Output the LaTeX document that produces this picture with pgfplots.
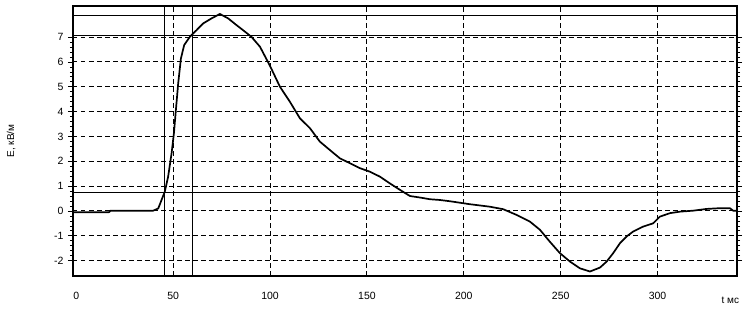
\documentclass[border=0pt]{standalone}
\usepackage{fontspec}
\setmainfont{Liberation Sans}
\usepackage{pgfplots}
\pgfplotsset{compat=1.18}
\begin{document}
\begin{tikzpicture}
\begin{axis}[
  scale only axis,
  width=664pt, height=270pt,
  xmin=-1.7, xmax=341,
  ymin=-2.62, ymax=8.25,
  xtick={50,100,...,300},
  extra x ticks={0},
  extra tick style={grid=none},
  ytick={-2,-1,...,7},
  minor y tick num=4,
  grid=major,
  major grid style={black, line width=0.9pt, dash pattern=on 4.5pt off 3.5pt},
  axis line style={black, line width=1.3pt},
  x tick style={draw=none},
  y tick style={black, line width=0.6pt},
  tick align=outside,
  major tick length=5pt,
  minor tick length=3pt,
  /pgf/number format/assume math mode=true,
  tick label style={font=\fontsize{10.5}{12}\selectfont},
  xticklabel style={yshift=-8pt},
  yticklabel style={xshift=-1pt},
  clip=false,
]
\addplot[black, line width=0.7pt] coordinates {(45.7,-2.62) (45.7,8.25)};
\addplot[black, line width=0.7pt] coordinates {(59.7,-2.62) (59.7,8.25)};
\addplot[black, line width=0.7pt] coordinates {(-1.7,7.88) (341,7.88)};
\addplot[black, line width=0.7pt] coordinates {(-1.7,7.08) (341,7.08)};
\addplot[black, line width=0.7pt] coordinates {(-1.7,0.75) (341,0.75)};
\addplot[black, line width=1.7pt, line join=round] coordinates {
(-1.7,-0.05) (17,-0.05) (17.5,0.01) (39.7,0.01) (42.3,0.1) (44,0.44) (45.7,0.78)
(47.4,1.38) (49.2,2.33) (50.4,3.14) (51.4,4.06) (52.6,5.14) (54,6.14) (55.7,6.68)
(58.6,7.01) (62.1,7.28) (65.5,7.55) (69.8,7.75) (74.1,7.93) (78.4,7.75) (82.7,7.48)
(87,7.22) (90.5,7.0) (94.8,6.61) (99.9,5.85) (105.1,5.0) (110.2,4.40) (115.4,3.73)
(120.6,3.33) (125.7,2.79) (130.9,2.45) (136,2.12) (141.2,1.92) (146.4,1.72)
(151.5,1.58) (156.7,1.38) (161.8,1.11) (167,0.85) (172.2,0.60) (177.3,0.54)
(182.5,0.47) (187.7,0.44) (192.8,0.39) (203.1,0.27) (213.4,0.17) (220.3,0.07)
(227.2,-0.16) (234.1,-0.43) (239.3,-0.76) (244.4,-1.24) (249.6,-1.70) (254.8,-2.04)
(259.9,-2.31) (265.1,-2.44) (270.3,-2.28) (273.7,-2.04) (277.1,-1.70) (280.6,-1.30)
(284,-1.03) (287.4,-0.83) (292.6,-0.63) (297.7,-0.50) (301.2,-0.23) (306.4,-0.09)
(311.5,-0.03) (318.4,0.01) (325.3,0.08) (332.2,0.11) (337.3,0.11) (339,0.01) (341,0.0)
};
\node[rotate=90, font=\fontsize{10}{12}\selectfont] at (rel axis cs:-0.093,0.5) {E, кВ/м};
\node[font=\fontsize{10}{12}\selectfont] at (rel axis cs:0.99,-0.089) {t мс};
\end{axis}
\pgfresetboundingbox
\path (current axis.south west) ++(-73pt,-35pt) coordinate (bl);
\path (current axis.north east) ++(7pt,6pt) coordinate (tr);
\path[use as bounding box] (bl) rectangle (tr);
\end{tikzpicture}
\end{document}
